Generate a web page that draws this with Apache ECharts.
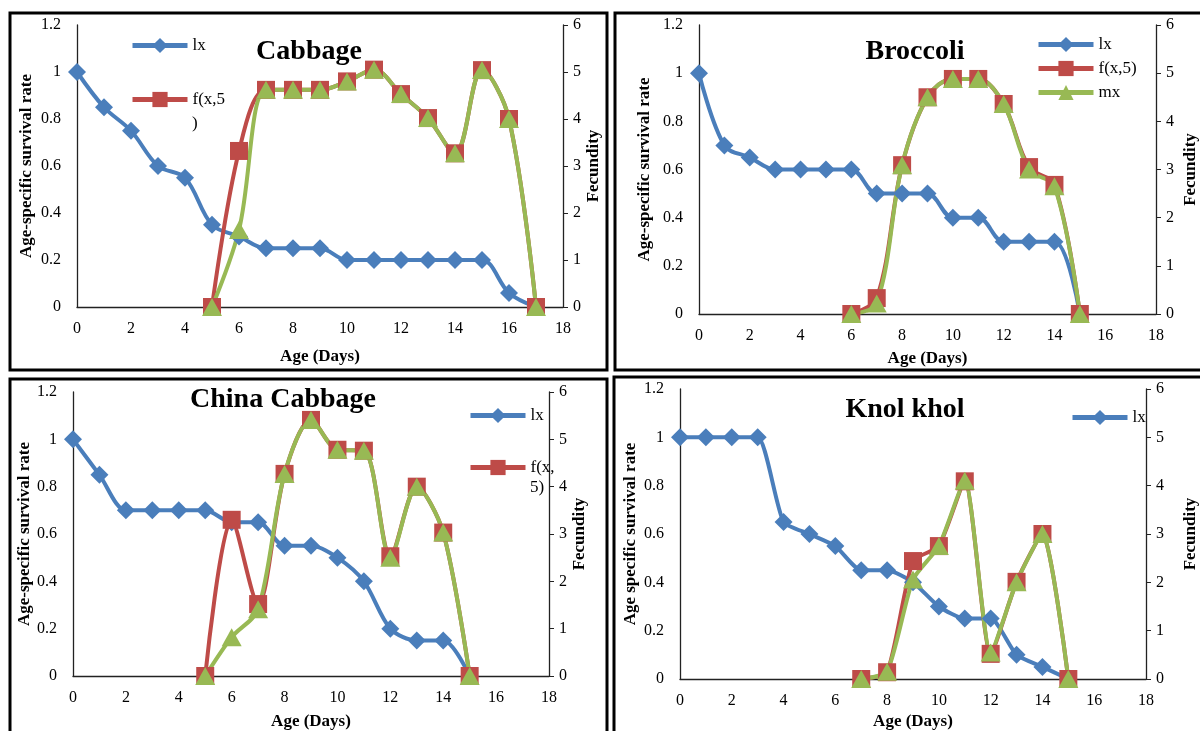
<!DOCTYPE html>
<html>
<head>
<meta charset="utf-8">
<script src="https://cdn.jsdelivr.net/npm/echarts@6.0.0/dist/echarts.min.js"></script>
<style>
html, body { margin: 0; padding: 0; background: #fff; }
#chart { width: 1200px; height: 731px; }
</style>
</head>
<body>
<div id="chart"></div>
<script>
// life table values (lx from day 0, fecundity from its first day)
const cabbageLx = [1, 0.85, 0.75, 0.6, 0.55, 0.35, 0.3, 0.25, 0.25, 0.25, 0.2, 0.2, 0.2, 0.2, 0.2, 0.2, 0.06, 0];
const cabbageFecStart = 5;
const cabbageFx = [0, 3.32, 4.62, 4.62, 4.62, 4.8, 5.05, 4.53, 4.02, 3.27, 5.04, 4.0, 0];
const cabbageMx = [0, 1.64, 4.62, 4.62, 4.62, 4.8, 5.05, 4.53, 4.02, 3.27, 5.04, 4.0, 0];

const broccoliLx = [1, 0.7, 0.65, 0.6, 0.6, 0.6, 0.6, 0.5, 0.5, 0.5, 0.4, 0.4, 0.3, 0.3, 0.3, 0];
const broccoliFecStart = 6;
const broccoliFx = [0, 0.33, 3.09, 4.5, 4.88, 4.88, 4.36, 3.05, 2.68, 0];
const broccoliMx = [0, 0.22, 3.09, 4.5, 4.88, 4.88, 4.36, 3.0, 2.65, 0];

const chinaLx = [1, 0.85, 0.7, 0.7, 0.7, 0.7, 0.65, 0.65, 0.55, 0.55, 0.5, 0.4, 0.2, 0.15, 0.15, 0];
const chinaFecStart = 5;
const chinaFx = [0, 3.3, 1.52, 4.27, 5.41, 4.78, 4.76, 2.53, 4.0, 3.03, 0];
const chinaMx = [0, 0.82, 1.41, 4.27, 5.41, 4.78, 4.76, 2.5, 4.0, 3.03, 0];

const knolLx = [1, 1, 1, 1, 0.65, 0.6, 0.55, 0.45, 0.45, 0.4, 0.3, 0.25, 0.25, 0.1, 0.05, 0];
const knolFecStart = 7;
const knolFx = [0, 0.14, 2.44, 2.75, 4.09, 0.52, 2.01, 3.0, 0];
const knolMx = [0, 0.15, 2.06, 2.75, 4.1, 0.55, 2.0, 3.0, 0];

const panelTitles = ['Cabbage', 'Broccoli', 'China Cabbage', 'Knol khol'];
const leftNames = ['Age-specific survival rate', 'Age-specific survival rate', 'Age-specific survival rate', 'Age specific survival rate'];
const xName = 'Age (Days)';
const rightName = 'Fecundity';

const FONT = '"Liberation Serif", "Times New Roman", serif';
const BLUE = '#4a7ebb';
const RED = '#be4b48';
const GREEN = '#98b954';

const pts = (start, vals) => vals.map((v, i) => [start + i, v]);

// layout of each panel: plot box, gaps of the axis names, title spot
const panels = [
	{grid: {left: 77, top: 25, width: 486, height: 282}, xGap: 41, lGap: 42, rGap: 17, title: [309, 52],
		lx: cabbageLx, start: cabbageFecStart, fx: cabbageFx, mx: cabbageMx, smooth: 0.35},
	{grid: {left: 699, top: 25, width: 463, height: 289}, xGap: 36, lGap: 46, rGap: 26, title: [915, 52],
		lx: broccoliLx, start: broccoliFecStart, fx: broccoliFx, mx: broccoliMx, smooth: 0.35},
	{grid: {left: 73, top: 392, width: 476, height: 285}, xGap: 37, lGap: 38, rGap: 20, title: [283, 400],
		lx: chinaLx, start: chinaFecStart, fx: chinaFx, mx: chinaMx, smooth: 0.3},
	{grid: {left: 680, top: 389, width: 472, height: 291}, xGap: 34, lGap: 41, rGap: 36, title: [905, 410],
		lx: knolLx, start: knolFecStart, fx: knolFx, mx: knolMx, smooth: 0.2},
];

const axisLine = {show: true, lineStyle: {color: '#222', width: 1.3}};
const tickLabel = {color: '#000', fontFamily: FONT, fontSize: 16};
const nameStyle = {color: '#000', fontFamily: FONT, fontSize: 17, fontWeight: 'bold'};

let grids = [], xAxes = [], yAxes = [], series = [], graphics = [];

panels.forEach((p, i) => {
	grids.push(Object.assign({containLabel: false}, p.grid));
	xAxes.push({
		type: 'value', gridIndex: i, min: 0, max: 18, interval: 2,
		axisLine: axisLine, axisTick: {show: false}, splitLine: {show: false},
		axisLabel: Object.assign({margin: 14}, tickLabel),
		name: xName, nameLocation: 'middle', nameGap: p.xGap, nameTextStyle: nameStyle,
	});
	yAxes.push({
		type: 'value', gridIndex: i, position: 'left', min: 0, max: 1.2, interval: 0.2,
		axisLine: axisLine, axisTick: {show: false}, splitLine: {show: false},
		axisLabel: Object.assign({margin: 16}, tickLabel),
		name: leftNames[i], nameLocation: 'middle', nameGap: p.lGap, nameRotate: 90, nameTextStyle: nameStyle,
	});
	yAxes.push({
		type: 'value', gridIndex: i, position: 'right', min: 0, max: 6, interval: 1,
		axisLine: axisLine, axisTick: {show: true, inside: false, length: 5, lineStyle: {color: '#222'}},
		splitLine: {show: false},
		axisLabel: Object.assign({margin: 10}, tickLabel),
		name: rightName, nameLocation: 'middle', nameGap: p.rGap, nameRotate: 90, nameTextStyle: nameStyle,
	});
	const common = {type: 'line', xAxisIndex: i, smooth: p.smooth, showAllSymbol: true, emphasis: {disabled: true}};
	series.push(Object.assign({}, common, {
		name: 'lx', yAxisIndex: 2 * i, data: pts(0, p.lx),
		symbol: 'diamond', symbolSize: [18, 18], itemStyle: {color: BLUE}, lineStyle: {color: BLUE, width: 4},
	}));
	series.push(Object.assign({}, common, {
		name: 'f(x,5)', yAxisIndex: 2 * i + 1, data: pts(p.start, p.fx),
		symbol: 'rect', symbolSize: 18, itemStyle: {color: RED}, lineStyle: {color: RED, width: 4},
	}));
	series.push(Object.assign({}, common, {
		name: 'mx', yAxisIndex: 2 * i + 1, data: pts(p.start, p.mx),
		symbol: 'triangle', symbolSize: [20, 18], itemStyle: {color: GREEN}, lineStyle: {color: GREEN, width: 4},
	}));
	graphics.push({
		type: 'text', x: p.title[0], y: p.title[1], z: 10,
		style: {text: panelTitles[i], font: 'bold 28px ' + FONT, fill: '#000', align: 'center', verticalAlign: 'middle'},
	});
});

// panel frames
const frames = [[10, 13, 597, 357], [615, 13, 600, 357], [10, 379, 597, 370], [614, 377, 600, 370]];
frames.forEach(f => {
	graphics.push({
		type: 'rect', z: 20, silent: true,
		shape: {x: f[0], y: f[1], width: f[2], height: f[3]},
		style: {fill: 'none', stroke: '#000', lineWidth: 3},
	});
});

// wrapped legend text (second lines)
graphics.push({type: 'text', x: 192, y: 124, style: {text: ')', font: '17px ' + FONT, fill: '#000', verticalAlign: 'middle'}});
graphics.push({type: 'text', x: 530, y: 488, style: {text: '5)', font: '17px ' + FONT, fill: '#000', verticalAlign: 'middle'}});

const legendBase = {
	itemWidth: 55, itemHeight: 19, itemGap: 7, orient: 'vertical', selectedMode: false, padding: 0,
	lineStyle: {width: 5},
	textStyle: {color: '#000', fontFamily: FONT, fontSize: 17},
};
const legends = [
	Object.assign({}, legendBase, {data: ['lx'], left: 130, top: 46 - 9}),
	Object.assign({}, legendBase, {data: ['f(x,5)'], left: 130, top: 100 - 9, formatter: () => 'f(x,5'}),
	Object.assign({}, legendBase, {data: ['lx', 'f(x,5)', 'mx'], left: 1036, top: 45 - 9}),
	Object.assign({}, legendBase, {data: ['lx'], left: 468, top: 416 - 9}),
	Object.assign({}, legendBase, {data: ['f(x,5)'], left: 468, top: 468 - 9, formatter: () => 'f(x,'}),
	Object.assign({}, legendBase, {data: ['lx'], left: 1070, top: 418 - 9}),
];

const chart = echarts.init(document.getElementById('chart'), null, {renderer: 'canvas'});
chart.setOption({
	animation: false,
	backgroundColor: '#fff',
	grid: grids,
	xAxis: xAxes,
	yAxis: yAxes,
	legend: legends,
	series: series,
	graphic: graphics,
});
</script>
</body>
</html>
